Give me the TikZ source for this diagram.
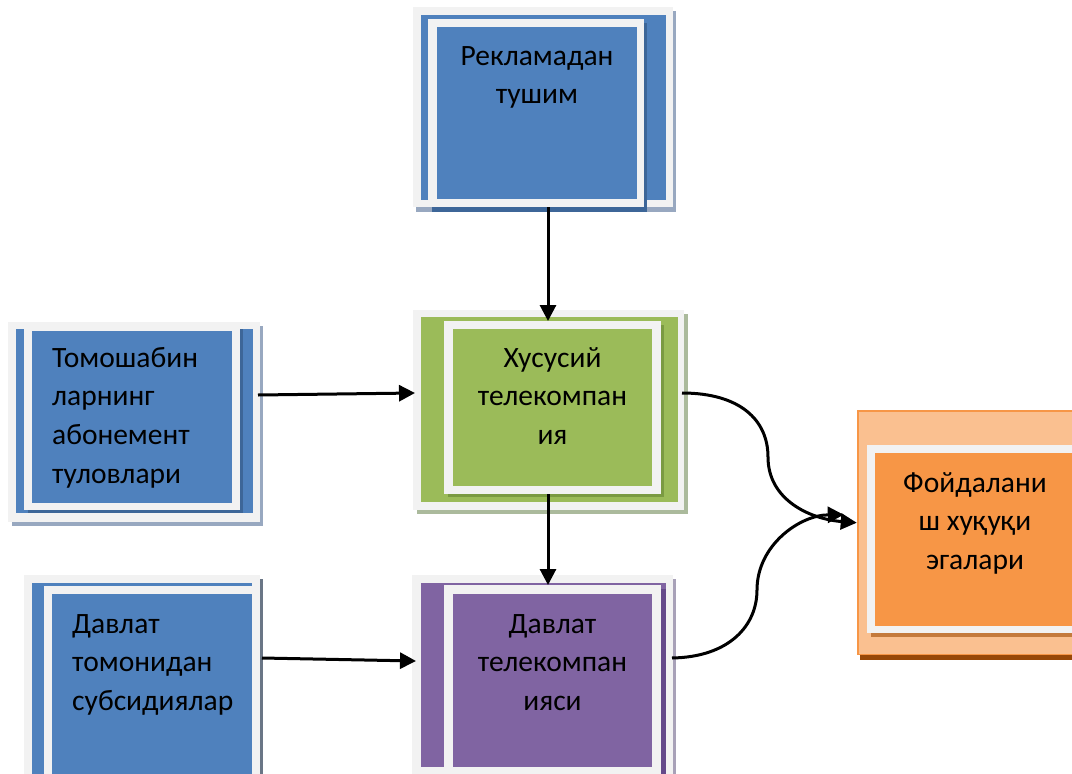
\documentclass[tikz,border=0pt]{standalone}
\usepackage{fontspec}
\setmainfont{Carlito}
\usetikzlibrary{arrows.meta,calc,fit}

\definecolor{framegray}{HTML}{F2F2F2}
\definecolor{accblue}{HTML}{4F81BD}
\definecolor{blueshade}{HTML}{3D6698}
\definecolor{blueouter}{HTML}{98A8C0}
\definecolor{accgreen}{HTML}{9BBB59}
\definecolor{greenshade}{HTML}{7A9A42}
\definecolor{greenouter}{HTML}{ABBA9C}
\definecolor{accpurple}{HTML}{8064A2}
\definecolor{purpleshade}{HTML}{65498A}
\definecolor{purpleouter}{HTML}{A8A1B8}
\definecolor{accorange}{HTML}{F79646}
\definecolor{orangelight}{HTML}{FAC090}
\definecolor{orangeshade}{HTML}{C47A3C}
\definecolor{orangeouter}{HTML}{984807}

\tikzset{
  plate/.style={draw=none, inner sep=0pt, outer sep=0pt},
  txt/.style={inner sep=0pt, font=\fontsize{29.5}{38.8}\selectfont},
  arr/.style={line width=3pt, -{Triangle[length=16pt,width=16pt]}},
  curvearr/.style={line width=3pt, -{Triangle[length=16pt,width=16pt]}},
}

\begin{document}
\begin{tikzpicture}[x=1pt,y=-1pt]
\useasboundingbox (0,0) rectangle (1072,774);
\clip (0,0) rectangle (1072,774);

% ---- advertising revenue (top)
\fill[blueouter] (416,11) rectangle (676,212);
\node[plate, fill=framegray, fit={(413,7) (673,207)}] (adF) {};
\fill[accblue] (421,15) rectangle (666,200);
\fill[blueshade] (432,23) rectangle (647,212);
\node[plate, fill=framegray, fit={(428,19) (644,207)}] (adI) {};
\fill[accblue] (437,27) rectangle (637,199);
\node[txt, anchor=base] (adT) at (537,65)
  {\begin{tabular}[t]{@{}c@{}}Рекламадан\\тушим\end{tabular}};

% ---- private TV company (centre)
\fill[greenouter] (417,314) rectangle (688,514);
\node[plate, fill=framegray, fit={(413,310) (684,510)}] (privF) {};
\fill[accgreen] (421,317) rectangle (678,502);
\fill[greenshade] (448,325) rectangle (664,497);
\node[plate, fill=framegray, fit={(444,321) (661,494)}] (privI) {};
\fill[accgreen] (453,329) rectangle (652,486);
\node[txt, anchor=base] (privT) at (552.5,367)
  {\begin{tabular}[t]{@{}c@{}}Хусусий\\телекомпан\\ия\end{tabular}};

% ---- viewers' subscription fees (left)
\fill[blueouter] (12,326) rectangle (263,526);
\node[plate, fill=framegray, fit={(8,322) (260,522)}] (viewF) {};
\fill[accblue] (16,329) rectangle (253,513);
\fill[blueshade] (28,329) rectangle (243,513);
\node[plate, fill=framegray, fit={(24,325) (240,510)}] (viewI) {};
\fill[accblue] (32,331) rectangle (232,503);
\node[txt, anchor=base west] (viewT) at (52,367)
  {\begin{tabular}[t]{@{}l@{}}Томошабин\\ларнинг\\абонемент\\туловлари\end{tabular}};

% ---- state subsidies (bottom left)
\fill[blueouter!70!black] (27,579) rectangle (263,800);
\node[plate, fill=framegray, fit={(24,575) (260,800)}] (subsF) {};
\fill[accblue] (32,583) rectangle (252,785);
\node[plate, fill=framegray, fit={(44,586) (260,800)}] (subsI) {};
\fill[accblue] (52,594) rectangle (252,790);
\node[txt, anchor=base west] (subsT) at (72,633)
  {\begin{tabular}[t]{@{}l@{}}Давлат\\томонидан\\субсидиялар\end{tabular}};

% ---- state TV company (bottom centre)
\fill[purpleouter] (416,579) rectangle (676,800);
\node[plate, fill=framegray, fit={(412,575) (673,800)}] (govF) {};
\fill[accpurple] (421,583) rectangle (666,767);
\fill[purpleshade] (448,589) rectangle (666,800);
\node[plate, fill=framegray, fit={(444,585) (661,800)}] (govI) {};
\fill[accpurple] (453,594) rectangle (652,767);
\node[txt, anchor=base] (govT) at (552.5,633)
  {\begin{tabular}[t]{@{}c@{}}Давлат\\телекомпан\\ияси\end{tabular}};

% ---- right holders (right)
\fill[orangeouter] (860,414) rectangle (1090,660);
\node[plate, fill=orangelight, draw=accorange, line width=1.5pt,
      fit={(857.75,410.75) (1090,654.25)}] (rightF) {};
\fill[orangeshade] (871,449) rectangle (1090,637);
\node[plate, fill=framegray, fit={(867,445) (1090,633)}] (rightI) {};
\fill[accorange] (875,453) rectangle (1075,626);
\node[txt, anchor=base] (rightT) at (975,492)
  {\begin{tabular}[t]{@{}c@{}}Фойдалани\\ш хуқуқи\\эгалари\end{tabular}};

% ---- connectors
\coordinate (vline) at (548,0);
\draw[arr] (adF.south -| vline) -- (privI.north -| vline);
\draw[arr] (privI.south -| vline) -- (govI.north -| vline);
\draw[arr] ($(viewF.north east)+(-2,73)$) -- ($(privF.north west)+(2,83)$);
\draw[arr] ($(subsF.north east)+(2,83)$) -- ($(govF.north west)+(4,86)$);

\coordinate (privOut) at ($(privF.north east)+(-2,83)$);
\coordinate (govOut) at ($(govF.north east)+(-1,83)$);
\coordinate (rightIn) at ($(rightF.north west)+(-1,112)$);
\coordinate (rightIn2) at ($(rightF.north west)+(-14,104)$);
\draw[curvearr] (privOut) .. controls (740,393) and (768,420) .. (768,457)
  .. controls (768,500) and (810,519) .. (rightIn);
\draw[curvearr] (govOut) .. controls (730,657) and (757,625) .. (757,590)
  .. controls (757,545) and (800,515) .. (rightIn2);
\end{tikzpicture}
\end{document}
